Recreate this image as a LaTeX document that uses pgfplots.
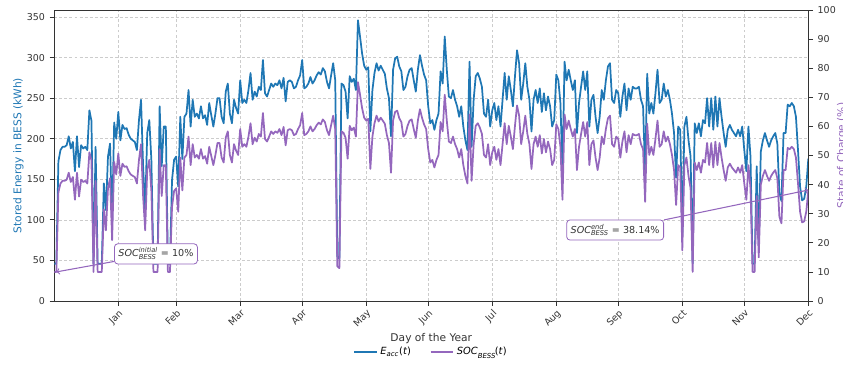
\documentclass[border=0pt]{standalone}
\usepackage{pgfplots}
\pgfplotsset{compat=1.18}
\usepackage{pgfplotstable}
\usepackage{amsmath}
\usepackage{fontspec}
\setmainfont{DejaVu Sans}
\definecolor{cblue}{HTML}{1F77B4}
\definecolor{cpurp}{HTML}{9467BD}
\definecolor{axgray}{HTML}{333333}
\pgfplotstableread[row sep=\\]{
d E S\\
0 46 10.0\\ 1 46 10.0\\ 2 172 37.4\\ 3 186 40.4\\ 4 190 41.3\\ 5 190 41.3\\
6 192 41.7\\ 7 203 44.1\\ 8 188 40.9\\ 9 196 42.6\\ 10 160 34.8\\ 11 203 44.1\\
12 165 35.9\\ 13 192 41.7\\ 14 188 40.9\\ 15 190 41.3\\ 16 186 40.4\\ 17 235 51.1\\
18 222 48.3\\ 19 46 10.0\\ 20 190 41.3\\ 21 46 10.0\\ 22 46 10.0\\ 23 46 10.0\\
24 145 31.5\\ 25 112 24.3\\ 26 178 38.7\\ 27 194 42.2\\ 28 96 20.9\\ 29 220 47.8\\
30 200 43.5\\ 31 233 50.7\\ 32 198 43.0\\ 33 217 47.2\\ 34 212 46.1\\ 35 213 46.3\\
36 205 44.6\\ 37 200 43.5\\ 38 198 43.0\\ 39 196 42.6\\ 40 186 40.4\\ 41 223 48.5\\
42 248 53.9\\ 43 166 36.1\\ 44 112 24.3\\ 45 207 45.0\\ 46 223 48.5\\ 47 174 37.8\\
48 46 10.0\\ 49 46 10.0\\ 50 46 10.0\\ 51 240 52.2\\ 52 166 36.1\\ 53 215 46.7\\
54 215 46.7\\ 55 46 10.0\\ 56 46 10.0\\ 57 149 32.4\\ 58 174 37.8\\ 59 178 38.7\\
60 141 30.7\\ 61 227 49.3\\ 62 175 38.0\\ 63 227 49.3\\ 64 231 50.2\\ 65 260 56.5\\
66 215 46.7\\ 67 248 53.9\\ 68 227 49.3\\ 69 231 50.2\\ 70 225 48.9\\ 71 240 52.2\\
72 225 48.9\\ 73 229 49.8\\ 74 217 47.2\\ 75 244 53.0\\ 76 229 49.8\\ 77 215 46.7\\
78 231 50.2\\ 79 250 54.3\\ 80 250 54.3\\ 81 227 49.3\\ 82 219 47.6\\ 83 258 56.1\\
84 268 58.3\\ 85 231 50.2\\ 86 219 47.6\\ 87 248 53.9\\ 88 238 51.7\\ 89 231 50.2\\
90 272 59.1\\ 91 244 53.0\\ 92 248 53.9\\ 93 244 53.0\\ 94 260 56.5\\ 95 281 61.1\\
96 248 53.9\\ 97 258 56.1\\ 98 252 54.8\\ 99 264 57.4\\ 100 260 56.5\\ 101 297 64.6\\
102 256 55.7\\ 103 252 54.8\\ 104 260 56.5\\ 105 268 58.3\\ 106 264 57.4\\ 107 268 58.3\\
108 266 57.8\\ 109 272 59.1\\ 110 262 57.0\\ 111 275 59.8\\ 112 246 53.5\\ 113 270 58.7\\
114 272 59.1\\ 115 270 58.7\\ 116 262 57.0\\ 117 264 57.4\\ 118 272 59.1\\ 119 278 60.4\\
120 297 64.6\\ 121 262 57.0\\ 122 264 57.4\\ 123 268 58.3\\ 124 276 60.0\\ 125 268 58.3\\
126 272 59.1\\ 127 278 60.4\\ 128 282 61.3\\ 129 279 60.7\\ 130 287 62.4\\ 131 283 61.5\\
132 270 58.7\\ 133 262 57.0\\ 134 278 60.4\\ 135 293 63.7\\ 136 272 59.1\\ 137 55 12.0\\
138 52 11.3\\ 139 268 58.3\\ 140 266 57.8\\ 141 258 56.1\\ 142 225 48.9\\ 143 277 60.2\\
144 270 58.7\\ 145 274 59.6\\ 146 260 56.5\\ 147 346 75.2\\ 148 326 70.9\\ 149 305 66.3\\
150 290 63.0\\ 151 285 62.0\\ 152 288 62.6\\ 153 209 45.4\\ 154 260 56.5\\ 155 281 61.1\\
156 293 63.7\\ 157 284 61.7\\ 158 290 63.0\\ 159 285 62.0\\ 160 280 60.9\\ 161 262 57.0\\
162 250 54.3\\ 163 203 44.1\\ 164 285 62.0\\ 165 299 65.0\\ 166 301 65.4\\ 167 289 62.8\\
168 283 61.5\\ 169 260 56.5\\ 170 264 57.4\\ 171 277 60.2\\ 172 285 62.0\\ 173 287 62.4\\
174 272 59.1\\ 175 258 56.1\\ 176 285 62.0\\ 177 303 65.9\\ 178 290 63.0\\ 179 279 60.7\\
180 272 59.1\\ 181 240 52.2\\ 182 219 47.6\\ 183 223 48.5\\ 184 211 45.9\\ 185 223 48.5\\
186 231 50.2\\ 187 283 61.5\\ 188 268 58.3\\ 189 326 70.9\\ 190 285 62.0\\ 191 252 54.8\\
192 250 54.3\\ 193 260 56.5\\ 194 248 53.9\\ 195 240 52.2\\ 196 227 49.3\\ 197 240 52.2\\
198 215 46.7\\ 199 198 43.0\\ 200 186 40.4\\ 201 295 64.1\\ 202 190 41.3\\ 203 248 53.9\\
204 277 60.2\\ 205 281 61.1\\ 206 274 59.6\\ 207 264 57.4\\ 208 231 50.2\\ 209 227 49.3\\
210 248 53.9\\ 211 215 46.7\\ 212 235 51.1\\ 213 244 53.0\\ 214 223 48.5\\ 215 240 52.2\\
216 215 46.7\\ 217 248 53.9\\ 218 281 61.1\\ 219 248 53.9\\ 220 277 60.2\\ 221 260 56.5\\
222 240 52.2\\ 223 277 60.2\\ 224 309 67.2\\ 225 293 63.7\\ 226 248 53.9\\ 227 268 58.3\\
228 293 63.7\\ 229 264 57.4\\ 230 248 53.9\\ 231 209 45.4\\ 232 248 53.9\\ 233 260 56.5\\
234 244 53.0\\ 235 262 57.0\\ 236 233 50.7\\ 237 256 55.7\\ 238 235 51.1\\ 239 252 54.8\\
240 240 52.2\\ 241 215 46.7\\ 242 223 48.5\\ 243 279 60.7\\ 244 272 59.1\\ 245 244 53.0\\
246 160 34.8\\ 247 295 64.1\\ 248 272 59.1\\ 249 285 62.0\\ 250 272 59.1\\ 251 260 56.5\\
252 272 59.1\\ 253 207 45.0\\ 254 244 53.0\\ 255 264 57.4\\ 256 283 61.5\\ 257 260 56.5\\
258 283 61.5\\ 259 215 46.7\\ 260 248 53.9\\ 261 254 55.2\\ 262 227 49.3\\ 263 207 45.0\\
264 227 49.3\\ 265 260 56.5\\ 266 248 53.9\\ 267 272 59.1\\ 268 289 62.8\\ 269 293 63.7\\
270 248 53.9\\ 271 244 53.0\\ 272 260 56.5\\ 273 256 55.7\\ 274 227 49.3\\ 275 252 54.8\\
276 268 58.3\\ 277 235 51.1\\ 278 262 57.0\\ 279 248 53.9\\ 280 264 57.4\\ 281 262 57.0\\
282 262 57.0\\ 283 264 57.4\\ 284 248 53.9\\ 285 240 52.2\\ 286 157 34.1\\ 287 280 60.9\\
288 231 50.2\\ 289 244 53.0\\ 290 231 50.2\\ 291 256 55.7\\ 292 285 62.0\\ 293 244 53.0\\
294 248 53.9\\ 295 268 58.3\\ 296 252 54.8\\ 297 260 56.5\\ 298 248 53.9\\ 299 231 50.2\\
300 207 45.0\\ 301 152 33.0\\ 302 215 46.7\\ 303 211 45.9\\ 304 80 17.4\\ 305 215 46.7\\
306 227 49.3\\ 307 198 43.0\\ 308 178 38.7\\ 309 46 10.0\\ 310 219 47.6\\ 311 207 45.0\\
312 219 47.6\\ 313 203 44.1\\ 314 223 48.5\\ 315 219 47.6\\ 316 250 54.3\\ 317 215 46.7\\
318 250 54.3\\ 319 211 45.9\\ 320 252 54.8\\ 321 215 46.7\\ 322 250 54.3\\ 323 227 49.3\\
324 207 45.0\\ 325 190 41.3\\ 326 211 45.9\\ 327 217 47.2\\ 328 211 45.9\\ 329 207 45.0\\
330 203 44.1\\ 331 211 45.9\\ 332 203 44.1\\ 333 215 46.7\\ 334 186 40.4\\ 335 160 34.8\\
336 215 46.7\\ 337 178 38.7\\ 338 46 10.0\\ 339 46 10.0\\ 340 166 36.1\\ 341 69 15.0\\
342 184 40.0\\ 343 198 43.0\\ 344 207 45.0\\ 345 198 43.0\\ 346 190 41.3\\ 347 198 43.0\\
348 203 44.1\\ 349 207 45.0\\ 350 194 42.2\\ 351 133 28.9\\ 352 123 26.7\\ 353 207 45.0\\
354 207 45.0\\ 355 242 52.6\\ 356 240 52.2\\ 357 244 53.0\\ 358 240 52.2\\ 359 227 49.3\\
360 186 40.4\\ 361 141 30.7\\ 362 124 27.0\\ 363 126 27.4\\ 364 141 30.7\\ 365 175.4 38.14\\
}\bess
\newcommand{\soc}[1]{\textit{SOC}$^{\text{\itshape #1}}_{\text{\itshape BESS}}$}
\begin{document}
\begin{tikzpicture}
\pgfplotsset{
  every axis/.append style={
    scale only axis, width=565.5pt, height=218.25pt,
    at={(0,0)}, anchor=south west,
    xmin=0, xmax=365,
    tick align=outside, major tick length=3.5pt,
    every tick/.style={axgray, line width=0.6pt},
    axis line style={axgray, line width=0.7pt},
    tick label style={font=\fontsize{7.1}{8}\selectfont, text=axgray},
    label style={font=\fontsize{8}{9}\selectfont},
    /pgf/number format/assume math mode=true,
  },
}
\begin{axis}[
  ymin=0, ymax=358.6,
  xtick={31,59,90,120,151,181,212,243,273,304,334,365},
  xticklabels={Jan,Feb,Mar,Apr,May,Jun,Jul,Aug,Sep,Oct,Nov,Dec},
  xticklabel style={rotate=45, anchor=north east, inner sep=1.5pt},
  ytick={0,50,...,350},
  xtick pos=left, ytick pos=left,
  grid=major,
  grid style={dash pattern=on 2.2pt off 1.6pt, black!20, line width=0.4pt},
  xlabel={Day of the Year},
  xlabel style={at={(axis description cs:0.5,-0.13)}, anchor=center, text=axgray},
  ylabel={Stored Energy in BESS (kWh)},
  ylabel style={at={(axis description cs:-0.0475,0.5)}, anchor=center, text=cblue},
]
\addplot[cblue, line width=1.3pt, line join=round] table[x=d, y=E]{\bess};
\end{axis}
\begin{axis}[
  ymin=0, ymax=100,
  axis x line=none,
  axis y line*=right,
  ytick={0,10,...,100},
  ylabel={State of Charge (\%)},
  ylabel style={at={(axis description cs:1.045,0.5)}, anchor=center, text=cpurp},
  legend style={at={(axis description cs:0.5,-0.176)}, anchor=center, draw=none, fill=none,
    font=\fontsize{7.4}{8}\selectfont,
    /tikz/every even column/.append style={column sep=12pt}},
  legend columns=2,
  legend cell align=left,
]
\addlegendimage{cblue, line width=1.3pt}
\addlegendentry{\textit{E}$_{\text{\itshape acc}}$(\textit{t})}
\addplot[cpurp, line width=1.3pt, line join=round] table[x=d, y=S]{\bess};
\addlegendentry{\soc{}\kern-1pt(\textit{t})}
\node[draw=cpurp, fill=white, rounded corners=2.5pt, inner sep=3pt, line width=0.6pt,
  font=\fontsize{7.2}{8}\selectfont, text=axgray] (ini) at (axis cs:49.2,16.2) {\soc{initial} = 10\%};
\draw[cpurp, line width=0.8pt, ->] (ini) -- (axis cs:1,10);
\node[draw=cpurp, fill=white, rounded corners=2.5pt, inner sep=3pt, line width=0.6pt,
  font=\fontsize{7.2}{8}\selectfont, text=axgray] (fin) at (axis cs:271.5,24.4) {\soc{end} = 38.14\%};
\draw[cpurp, line width=0.8pt, ->] (fin) -- (axis cs:365,38.14);
\end{axis}
\pgfresetboundingbox
\useasboundingbox (-40.7pt,-48pt) rectangle (591.5pt,225.75pt);
\end{tikzpicture}
\end{document}
